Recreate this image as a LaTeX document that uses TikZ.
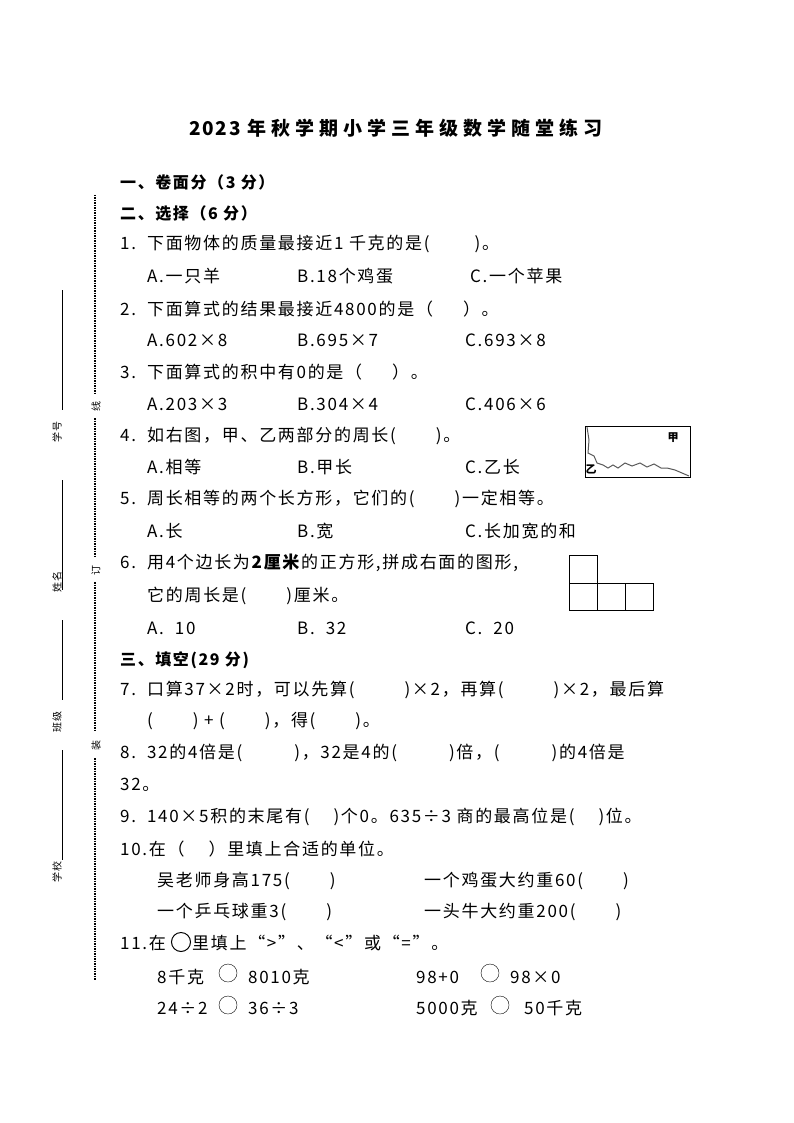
\documentclass[tikz,border=0pt]{standalone}
\usepackage{fontspec}
\setmainfont{Noto Sans CJK SC}[LetterSpace=10]
\newcommand{\gp}[1][40pt]{\hspace*{#1}}
\begin{document}
\begin{tikzpicture}[x=1pt,y=-1pt,
  t/.style={anchor=west,inner sep=0,font=\fontsize{17}{17}\selectfont},
  lab/.style={rotate=90,inner sep=0,font=\fontsize{10}{10}\selectfont}]
\useasboundingbox (0,0) rectangle (794,1123);
\node[inner sep=0,font=\fontsize{19}{19}\selectfont\bfseries] (title) at (396,128) {2023\hspace{7pt}年\hspace{5pt}秋\hspace{5pt}学\hspace{5pt}期\hspace{5pt}小\hspace{5pt}学\hspace{5pt}三\hspace{5pt}年\hspace{5pt}级\hspace{5pt}数\hspace{5pt}学\hspace{5pt}随\hspace{5pt}堂\hspace{5pt}练\hspace{5pt}习};
\draw[densely dotted,line width=1.5pt] (95,195) -- (95,395);
\draw[densely dotted,line width=1.5pt] (95,418) -- (95,558);
\draw[densely dotted,line width=1.5pt] (95,582) -- (95,732);
\draw[densely dotted,line width=1.5pt] (95,758) -- (95,980);
\node[lab] (x1) at (96,406) {线};
\node[lab] (x2) at (96,570) {订};
\node[lab] (x3) at (96,745) {装};
\draw (62,290) -- (62,410); \draw (62,480) -- (62,590); \draw (62,620) -- (62,700); \draw (62,750) -- (62,860);
\node[lab] (l1) at (57,432) {学号};
\node[lab] (l2) at (57,582) {姓名};
\node[lab] (l3) at (57,722) {班级};
\node[lab] (l4) at (57,872) {学校};
\node[t,font=\fontsize{16}{16}\selectfont\bfseries] (s1) at (120,182) {一、卷面分（3 分）};
\node[t,font=\fontsize{16}{16}\selectfont\bfseries] (s2) at (120,213) {二、选择（6 分）};
\node[t] at (120,244) {1.\ \ 下面物体的质量最接近1 千克的是(\gp[45pt])。};
\node[t] at (147,276) {A.一只羊}; \node[t] at (297,276) {B.18个鸡蛋}; \node[t] at (470,276) {C.一个苹果};
\node[t] at (120,309) {2.\ \ 下面算式的结果最接近4800的是（\gp[30pt]）。};
\node[t] at (147,340) {A.602×8}; \node[t] at (297,340) {B.695×7}; \node[t] at (465,340) {C.693×8};
\node[t] at (120,372) {3.\ \ 下面算式的积中有0的是（\gp[30pt]）。};
\node[t] at (147,404) {A.203×3}; \node[t] at (297,404) {B.304×4}; \node[t] at (465,404) {C.406×6};
\node[t] at (120,436) {4.\ \ 如右图，甲、乙两部分的周长(\gp)。};
\node[t] at (147,467) {A.相等}; \node[t] at (297,467) {B.甲长}; \node[t] at (465,467) {C.乙长};
\node[t] at (120,499) {5.\ \ 周长相等的两个长方形，它们的(\gp)一定相等。};
\node[t] at (147,531) {A.长}; \node[t] at (297,531) {B.宽}; \node[t] at (465,531) {C.长加宽的和};
\node[t] at (120,563) {6.\ \ 用4个边长为\textbf{2厘米}的正方形,拼成右面的图形,};
\node[t] at (147,596) {它的周长是(\gp)厘米。};
\node[t] at (147,628) {A.\ \ 10}; \node[t] at (297,628) {B.\ \ 32}; \node[t] at (465,628) {C.\ \ 20};
\node[t,font=\fontsize{16}{16}\selectfont\bfseries] (s3) at (120,660) {三、填空(29 分)};
\node[t] at (120,690) {7.\ \ 口算37×2时，可以先算(\gp[50pt])×2，再算(\gp[50pt])×2，最后算};
\node[t] at (147,721) {(\gp) + (\gp)，得(\gp)。};
\node[t] at (120,753) {8.\ \ 32的4倍是(\gp[52pt])，32是4的(\gp[52pt])倍，(\gp[52pt])的4倍是};
\node[t] at (120,785) {32。};
\node[t] at (120,817) {9.\ \ 140×5积的末尾有(\gp[24pt])个0。635÷3 商的最高位是(\gp[24pt])位。};
\node[t] at (120,849) {10.在（\gp[24pt]）里填上合适的单位。};
\node[t] at (157,881) {吴老师身高175(\gp)}; \node[t] at (424,881) {一个鸡蛋大约重60(\gp)};
\node[t] at (157,912) {一个乒乓球重3(\gp)}; \node[t] at (424,912) {一头牛大约重200(\gp)};
\node[t] (q11) at (120,943) {11.在};
\draw[line width=1pt] (181,942) circle (9.5);
\node[t] (q11b) at (192,943) {里填上“>”、“<”或“=”。};
\node[t] at (157,977) {8千克}; \draw (228,973) circle (9); \node[t] at (248,977) {8010克};
\node[t] at (416,977) {98+0}; \draw (490,973) circle (9); \node[t] at (510,977) {98×0};
\node[t] at (157,1008) {24÷2}; \draw (228,1005) circle (9); \node[t] at (248,1008) {36÷3};
\node[t] at (416,1008) {5000克}; \draw (500,1005) circle (9); \node[t] at (524,1008) {50千克};
% figure 4
\draw[line width=1pt] (585,426) rectangle (690,477);
\draw[line width=1pt,gray!70!black] (587,427) -- (589,440) -- (588,453) -- (594,456) -- (597,463) -- (603,465) -- (608,468) -- (613,465) -- (618,468) -- (625,463) -- (632,466) -- (640,463) -- (647,467) -- (654,464) -- (661,468) -- (667,468) -- (675,470) -- (689,476);
\node[inner sep=0,font=\fontsize{11}{11}\selectfont\bfseries] (jia) at (673,438) {甲};
\node[inner sep=0,font=\fontsize{11}{11}\selectfont\bfseries] (yi) at (591,469) {乙};
% figure 6
\draw (569,555) rectangle (597,583);
\draw (569,583) rectangle (597,610);
\draw (597,583) rectangle (625,610);
\draw (625,583) rectangle (653,610);
\end{tikzpicture}
\end{document}
